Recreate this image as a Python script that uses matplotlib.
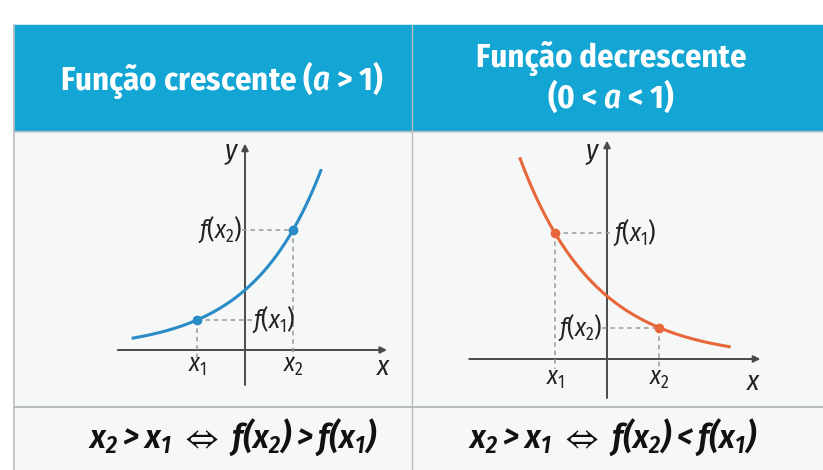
import numpy as np
import matplotlib.pyplot as plt
from matplotlib.patches import Rectangle

FONT = 'Fira Sans Condensed'
plt.rcParams['font.family'] = [FONT, 'DejaVu Sans']
plt.rcParams['mathtext.fontset'] = 'custom'
plt.rcParams['mathtext.rm'] = FONT
plt.rcParams['mathtext.it'] = FONT + ':italic'
plt.rcParams['mathtext.bf'] = FONT + ':italic:semibold'
plt.rcParams['mathtext.fallback'] = 'stixsans'

W, H = 823, 470

# table text
titles = [r'Função crescente ($\mathbf{a}$ > 1)', 'Função decrescente\n' + r'(0 < $\mathbf{a}$ < 1)']
relations = [r'$\mathbf{x_2 > x_1}\ \Leftrightarrow\ \mathbf{f(x_2) > f(x_1)}$',
             r'$\mathbf{x_2 > x_1}\ \Leftrightarrow\ \mathbf{f(x_2) < f(x_1)}$']

# curves f(x) = k * a**x, sampled points at x1 = -1 and x2 = 1
bases = [2.0, 0.5]
scales = [1.25, 1.21]
x_ranges = [(-2.33, 1.58), (-1.67, 2.35)]
x_points = [-1.0, 1.0]
curve_colors = ['#2a8cc6', '#e8673a']

header_blue = '#13a5d3'
bg = '#f6f7f7'
line_grey = '#b9bcbd'
axis_col = '#4a4a4a'
text_col = '#222222'

fig = plt.figure(figsize=(W / 100, H / 100), dpi=100)
fig.patch.set_facecolor('white')

# table layer in pixel units
tab = fig.add_axes([0, 0, 1, 1])
tab.set_xlim(0, W)
tab.set_ylim(H, 0)
tab.axis('off')
tab.add_patch(Rectangle((14, 25), W - 14, H - 25, color=bg, zorder=0))
tab.add_patch(Rectangle((14, 25), W - 14, 106, color=header_blue, zorder=1))
tab.plot([14, 14], [25, H], color=line_grey, lw=1.2, zorder=2)
tab.plot([412, 412], [25, H], color=line_grey, lw=1.0, zorder=2)
tab.plot([14, W], [131, 131], color=line_grey, lw=1.0, zorder=2)
tab.plot([14, W], [407, 407], color=line_grey, lw=1.4, zorder=2)

tab.text(222, 80, titles[0], color='white', fontsize=23.5, fontweight='bold',
         ha='center', va='center', zorder=3)
tab.text(611, 78, titles[1], color='white', fontsize=23.5, fontweight='bold',
         ha='center', va='center', linespacing=1.05, zorder=3)
tab.text(233, 437, relations[0], color='#111111', fontsize=25, ha='center', va='center')
tab.text(613, 437, relations[1], color='#111111', fontsize=25, ha='center', va='center')


def graph_axes(origin, unit, box):
    # box = (left, top, right, bottom) in pixels; data units of `unit` pixels
    l, t, r, b = box
    ax = fig.add_axes([l / W, 1 - b / H, (r - l) / W, (b - t) / H])
    ax.set_xlim((l - origin[0]) / unit, (r - origin[0]) / unit)
    ax.set_ylim((origin[1] - b) / unit, (origin[1] - t) / unit)
    ax.axis('off')
    ax.patch.set_alpha(0)
    return ax


panels = [
    dict(origin=(245, 350), unit=48, box=(110, 138, 400, 400),
         xaxis=(-2.65, 2.96), yaxis=(-0.73, 4.3), tick_y=-0.33,
         lab1=0.15, lab2=-0.06, xlab=(2.88, -0.36), ylab=(-0.27, 4.1)),
    dict(origin=(607, 359), unit=52, box=(440, 138, 800, 402),
         xaxis=(-2.65, 2.95), yaxis=(-0.75, 4.2), tick_y=-0.38,
         lab1=0.12, lab2=-0.1, xlab=(2.83, -0.45), ylab=(-0.27, 3.95)),
]

for i, p in enumerate(panels):
    ax = graph_axes(p['origin'], p['unit'], p['box'])
    a, k = bases[i], scales[i]
    f = lambda x: k * a ** x
    col = curve_colors[i]

    # axes with arrow heads
    ax.annotate('', xy=(p['xaxis'][1], 0), xytext=(p['xaxis'][0], 0),
                arrowprops=dict(arrowstyle='-|>', color=axis_col, lw=1.4,
                                mutation_scale=10, shrinkA=0, shrinkB=0))
    ax.annotate('', xy=(0, p['yaxis'][1]), xytext=(0, p['yaxis'][0]),
                arrowprops=dict(arrowstyle='-|>', color=axis_col, lw=1.4,
                                mutation_scale=10, shrinkA=0, shrinkB=0))

    xs = np.linspace(*x_ranges[i], 300)
    ax.plot(xs, f(xs), color=col, lw=2.2, zorder=4)

    x1, x2 = x_points
    y1, y2 = f(x1), f(x2)
    dash = dict(color='#9a9a9a', lw=1.1, ls=(0, (3, 2.5)), zorder=3)
    ax.plot([x1, x1], [y1, -0.2], **dash)
    ax.plot([x2, x2], [y2, -0.2], **dash)
    ax.scatter([x1, x2], [y1, y2], s=36, color=col, zorder=5)

    fs = 18
    # f(x1) label sits right of the y axis, f(x2) label just left of it
    ax.plot([x1, p['lab1']], [y1, y1], **dash)
    ax.plot([p['lab2'], x2], [y2, y2], **dash)
    ax.text(p['lab1'], y1, '$f(x_1)$', fontsize=fs, ha='left', va='center', color=text_col)
    ax.text(p['lab2'], y2, '$f(x_2)$', fontsize=fs, ha='right', va='center', color=text_col)

    ax.text(x1, p['tick_y'], '$x_1$', fontsize=fs, ha='center', va='center', color=text_col)
    ax.text(x2, p['tick_y'], '$x_2$', fontsize=fs, ha='center', va='center', color=text_col)
    ax.text(*p['xlab'], '$x$', fontsize=fs + 2, ha='center', va='center', color=text_col)
    ax.text(*p['ylab'], '$y$', fontsize=fs + 2, ha='center', va='center', color=text_col)

fig.savefig('out.png', dpi=100)
